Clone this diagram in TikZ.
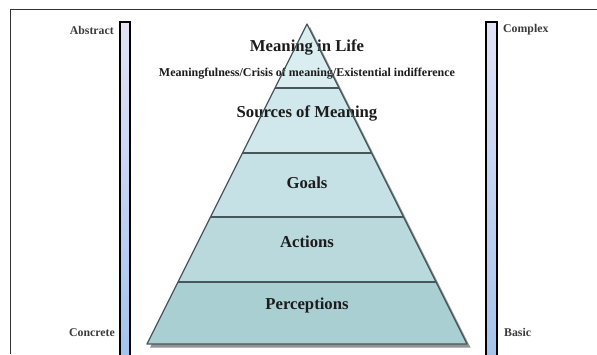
\documentclass[tikz,border=0pt]{standalone}
\usepackage{fontspec}
\setmainfont{Liberation Serif}
\definecolor{barTop}{HTML}{E2E2F8}
\definecolor{barBot}{HTML}{A4C4EC}
\definecolor{lvlA}{HTML}{DAEDF1}
\definecolor{lvlB}{HTML}{D0E7EB}
\definecolor{lvlC}{HTML}{C5E1E5}
\definecolor{lvlD}{HTML}{B9D9DD}
\definecolor{lvlE}{HTML}{AACFD3}
\definecolor{edgeC}{HTML}{46575B}
\definecolor{txtC}{HTML}{1C1C1C}
\definecolor{lblC}{HTML}{3A3A3A}
\begin{document}
\begin{tikzpicture}[x=1pt,y=-1pt,
  frameline/.style={draw=black!80,line width=1pt},
  barbox/.style={draw=black,line width=1.6pt,top color=barTop,bottom color=barBot},
  edge/.style={draw=edgeC,line width=1.3pt,line join=round},
  bigtxt/.style={inner sep=0pt,text=txtC,font=\fontsize{16.7}{20}\selectfont\bfseries},
  subtxt/.style={inner sep=0pt,text=txtC,font=\fontsize{12}{14}\selectfont\bfseries},
  sidelbl/.style={inner sep=0pt,text=lblC,font=\fontsize{11.8}{14}\selectfont\bfseries}]
\useasboundingbox (0,0) rectangle (597,354);
\fill[white] (0,0) rectangle (597,354);
\draw[frameline] (10,354) -- (10,9) -- (597,9);
% side bars
\shade[barbox] (120,22) rectangle (130,357);
\shade[barbox] (486,22) rectangle (497,357);
% pyramid coordinates
\coordinate (ap) at (307,24);
\coordinate (l1) at (275,88);   \coordinate (r1) at (339,88);
\coordinate (l2) at (242.5,153);\coordinate (r2) at (371.5,153);
\coordinate (l3) at (210.5,217);\coordinate (r3) at (403.5,217);
\coordinate (l4) at (178,282);  \coordinate (r4) at (436,282);
\coordinate (l5) at (147,344);  \coordinate (r5) at (467,344);
% shadow
\fill[gray!85] (310,27) -- (150,347.5) -- (470.5,347.5) -- cycle;
% level fills
\fill[lvlA] (ap) -- (l1) -- (r1) -- cycle;
\fill[lvlB] (l1) -- (l2) -- (r2) -- (r1) -- cycle;
\fill[lvlC] (l2) -- (l3) -- (r3) -- (r2) -- cycle;
\fill[lvlD] (l3) -- (l4) -- (r4) -- (r3) -- cycle;
\fill[lvlE] (l4) -- (l5) -- (r5) -- (r4) -- cycle;
% texts
\node[bigtxt] (mil) at (307,47) {Meaning in Life};
\node[subtxt] (sub) at (307,74) {Meaningfulness/Crisis of meaning/Existential indifference};
\node[bigtxt] (som) at (307,113) {Sources of Meaning};
\node[bigtxt] (goals) at (307,183) {Goals};
\node[bigtxt] (acts) at (307,242) {Actions};
\node[bigtxt] (perc) at (307,305) {Perceptions};
% outline on top
\draw[edge] (ap) -- (l5) -- (r5) -- cycle;
\draw[edge] (l1) -- (r1);
\draw[edge] (l2) -- (r2);
\draw[edge] (l3) -- (r3);
\draw[edge] (l4) -- (r4);
% side labels
\node[sidelbl,anchor=east] (abs) at (114,30) {Abstract};
\node[sidelbl,anchor=west] (cpx) at (503,30) {Complex};
\node[sidelbl,anchor=east] (con) at (115,333) {Concrete};
\node[sidelbl,anchor=west] (bas) at (504,332) {Basic};
\end{tikzpicture}
\end{document}
